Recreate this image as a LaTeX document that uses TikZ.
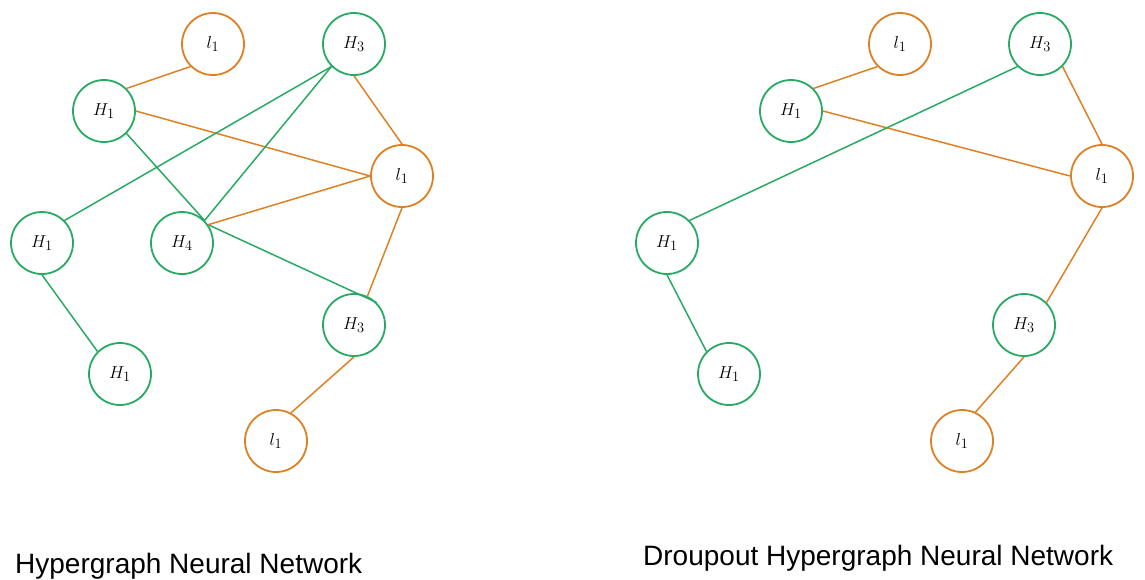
\documentclass[tikz,border=0pt]{standalone}
\usepackage{fontspec}
\newfontfamily\captionfont{Liberation Sans}
\definecolor{hgreen}{RGB}{40,170,100}
\definecolor{horange}{RGB}{222,128,36}
\begin{document}
\begin{tikzpicture}[x=1pt,y=-1pt,
  vert/.style={circle,draw,line width=1.8pt,minimum size=62pt,inner sep=0pt,fill=white,font=\fontsize{19}{21}\selectfont},
  hv/.style={vert,draw=hgreen},
  lv/.style={vert,draw=horange},
  ge/.style={draw=hgreen,line width=1.5pt},
  oe/.style={draw=horange,line width=1.5pt},
  captext/.style={anchor=base west,inner sep=0pt,font=\captionfont\fontsize{28}{32}\selectfont}]
\useasboundingbox (0,0) rectangle (1145,579);
% ---------- left graph ----------
\node[lv] (lA) at (213,44) {$l_1$};
\node[hv] (H3a) at (354,44) {$H_3$};
\node[hv] (H1a) at (104,111) {$H_1$};
\node[lv] (lR) at (402,176) {$l_1$};
\node[hv] (H1L) at (42,243) {$H_1$};
\node[hv] (H4) at (182,243) {$H_4$};
\node[hv] (H3m) at (354,325) {$H_3$};
\node[hv] (H1B) at (120,374) {$H_1$};
\node[lv] (lB) at (276,441) {$l_1$};
\draw[oe] (H1a.45) -- (lA.225);
\draw[oe] (H1a.east) -- (lR.west);
\draw[oe] (H3a.south) -- (lR.north);
\draw[ge] (H3a.225) -- (H1L.45);
\draw[ge] (H3a.225) -- (H4.45);
\draw[ge] (H1a.315) -- (H4.45);
\draw[ge] (H4.35) -- (H3m.45);
\draw[oe] (lR.west) -- (H4.35);
\draw[oe] (lR.south) -- (H3m.65);
\draw[ge] (H1L.south) -- (H1B.135);
\draw[oe] (H3m.south) -- (lB.62);
% ---------- right graph ----------
\node[lv] (rlA) at (900,44) {$l_1$};
\node[hv] (rH3) at (1040,44) {$H_3$};
\node[hv] (rH1) at (791,111) {$H_1$};
\node[lv] (rlR) at (1102,176) {$l_1$};
\node[hv] (rH1L) at (667,243) {$H_1$};
\node[hv] (rH3m) at (1024,325) {$H_3$};
\node[hv] (rH1B) at (729,374) {$H_1$};
\node[lv] (rlB) at (962,441) {$l_1$};
\draw[oe] (rH1.45) -- (rlA.225);
\draw[oe] (rH1.east) -- (rlR.west);
\draw[ge] (rH3.225) -- (rH1L.45);
\draw[oe] (rH3.315) -- (rlR.north);
\draw[oe] (rlR.south) -- (rH3m.45);
\draw[ge] (rH1L.south) -- (rH1B.135);
\draw[oe] (rH3m.south) -- (rlB.65);
% ---------- captions ----------
\node[captext] (c1) at (15,573) {Hypergraph Neural Network};
\node[captext] (c2) at (643,565) {Droupout Hypergraph Neural Network};
\end{tikzpicture}
\end{document}
